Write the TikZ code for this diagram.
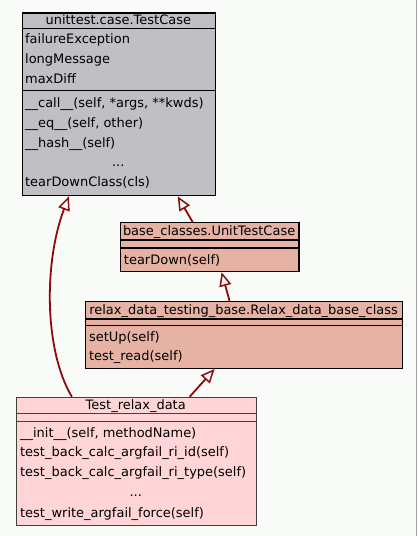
\documentclass[tikz,border=0pt]{standalone}
\usepackage{fontspec}
\setmainfont{DejaVu Sans}
\usetikzlibrary{positioning}
\usetikzlibrary{arrows.meta}
\definecolor{extgray}{HTML}{C0BFC3}
\definecolor{basesalmon}{HTML}{E5B2A3}
\definecolor{testpink}{HTML}{FFD5D7}
\definecolor{inhred}{HTML}{8B0A0A}
\definecolor{bgpaper}{HTML}{F9FBF9}

\begin{document}
\begin{tikzpicture}[x=1pt,y=-1pt,
  box/.style={draw,line width=1.2pt,anchor=north west,inner sep=0pt},
  hdr/.style={inner sep=0pt,text height=9.5pt,text depth=2.5pt,font=\fontsize{13}{15}\selectfont},
  mem/.style={hdr,anchor=west,text height=11pt,text depth=1pt},
  inh/.style={draw=inhred,line width=1.8pt,-{Triangle[open,length=14pt,width=12pt,line width=1.5pt]}}]
\fill[bgpaper] (0,0) rectangle (419,536);
\draw[black!35,line width=1pt] (417.5,0) -- (417.5,536);

% external base
\node[box,fill=extgray,minimum width=193pt,minimum height=183pt] at (22,12) (testcase) {};
\draw[line width=1.2pt] (22,28) -- (215,28);
\draw[line width=1.2pt] (22,90) -- (215,90);
\node[hdr] at (118.5,21) (testcase-h) {unittest.case.TestCase};
\node[mem] at (25,38) (tc-a1) {failureException};
\node[mem] at (25,58) (tc-a2) {longMessage};
\node[mem] at (25,78) (tc-a3) {maxDiff};
\node[mem] at (25,102) (tc-m1) {\_\_call\_\_(self, *args, **kwds)};
\node[mem] at (25,122) (tc-m2) {\_\_eq\_\_(self, other)};
\node[mem] at (25,142) (tc-m3) {\_\_hash\_\_(self)};
\node[hdr] at (118.5,163) (tc-dots) {...};
\node[mem] at (25,181) (tc-m4) {tearDownClass(cls)};

% relax base classes
\node[box,fill=basesalmon,minimum width=179pt,minimum height=49pt] at (120,222) (unittest) {};
\draw[line width=1.2pt] (120,240) -- (299,240);
\draw[line width=1.2pt] (120,248) -- (299,248);
\node[hdr] at (209.5,232) (unittest-h) {base\_classes.UnitTestCase};
\node[mem] at (124,259) (ut-m1) {tearDown(self)};

\node[box,fill=basesalmon,minimum width=318pt,minimum height=67pt] at (85,301) (relaxbase) {};
\draw[line width=1.2pt] (85,319) -- (403,319);
\draw[line width=1.2pt] (85,326) -- (403,326);
\node[hdr] at (244,311) (relaxbase-h) {relax\_data\_testing\_base.Relax\_data\_base\_class};
\node[mem] at (89,337) (rb-m1) {setUp(self)};
\node[mem] at (89,356) (rb-m2) {test\_read(self)};

% the test class
\node[box,draw=black!75,fill=testpink,minimum width=240pt,minimum height=128pt] at (16,397) (testrelax) {};
\draw[black!75,line width=1.2pt] (16,414) -- (256,414);
\draw[black!75,line width=1.2pt] (16,422) -- (256,422);
\node[hdr] at (136,406) (testrelax-h) {Test\_relax\_data};
\node[mem] at (20,433) (tr-m1) {\_\_init\_\_(self, methodName)};
\node[mem] at (20,452) (tr-m2) {test\_back\_calc\_argfail\_ri\_id(self)};
\node[mem] at (20,472) (tr-m3) {test\_back\_calc\_argfail\_ri\_type(self)};
\node[hdr] at (136,493) (tr-dots) {...};
\node[mem] at (20,513) (tr-m4) {test\_write\_argfail\_force(self)};

% inheritance
\draw[inh] ([xshift=56pt]testrelax.north west) .. controls (44,350) and (44,262) .. ([xshift=47pt]testcase.south west);
\draw[inh] ([xshift=73pt]unittest.north west) -- ([xshift=156pt]testcase.south west);
\draw[inh] ([xshift=145pt]relaxbase.north west) -- ([xshift=102pt]unittest.south west);
\draw[inh] ([xshift=174pt]testrelax.north west) -- ([xshift=130pt]relaxbase.south west);
\end{tikzpicture}
\end{document}
